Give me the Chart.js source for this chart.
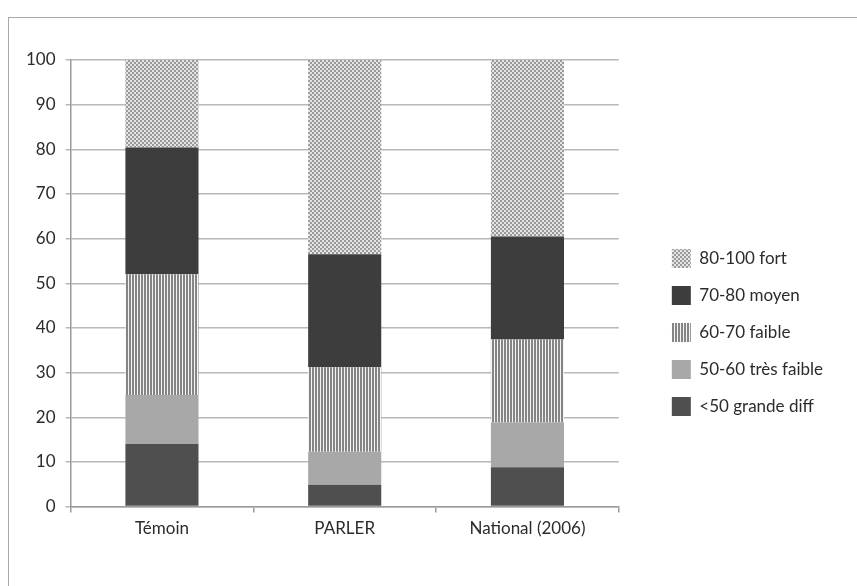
<!DOCTYPE html>
<html>
<head>
<meta charset="utf-8">
<script src="https://cdn.jsdelivr.net/npm/chart.js@4/dist/chart.umd.min.js"></script>
<style>
  html, body { margin: 0; padding: 0; background: #fff; overflow: hidden; }
  .frame { position: absolute; left: 8px; top: 17px; width: 900px; height: 600px;
           border-top: 1px solid #a9a9a9; border-left: 1px solid #a9a9a9; }
  .wrap { position: absolute; left: 0; top: 0; width: 857px; height: 586px; }
</style>
</head>
<body>
<div class="frame"></div>
<div class="wrap"><canvas id="c"></canvas></div>
<script>
// data
const categories = ['Témoin', 'PARLER', 'National (2006)'];
const grandeDiff = [14, 4.9, 8.8];      // <50 grande diff
const tresFaible = [11, 7.4, 10.1];     // 50-60 très faible
const faible = [27, 18.9, 18.5];        // 60-70 faible
const moyen = [28.4, 25.3, 23.1];       // 70-80 moyen
const fort = [19.6, 43.5, 39.5];        // 80-100 fort
const yTicks = [0, 10, 20, 30, 40, 50, 60, 70, 80, 90, 100];

// fill patterns
function checker(){
    const c = document.createElement('canvas');
    c.width = 4; c.height = 4;
    const g = c.getContext('2d');
    g.fillStyle = '#e4e4e4'; g.fillRect(0,0,4,4);
    g.fillStyle = '#9a9a9a'; g.fillRect(0,0,2,2); g.fillRect(2,2,2,2);
    return g.createPattern(c, 'repeat');
}
function stripes(){
    const c = document.createElement('canvas');
    c.width = 3; c.height = 3;
    const g = c.getContext('2d');
    g.fillStyle = '#f4f4f4'; g.fillRect(0,0,3,3);
    g.fillStyle = '#858585'; g.fillRect(0,0,2,3);
    return g.createPattern(c, 'repeat');
}

// leave some room between plot and legend
const GAP = 35;
const legendGap = {
    id: 'legendGap',
    beforeLayout(chart){
        const lg = chart.legend;
        if(!lg || lg._gapped) return;
        const fit = lg.fit;
        lg.fit = function(){ fit.call(this); this.width += GAP; };
        lg._gapped = true;
    },
    afterLayout(chart){
        if(chart.legend) chart.legend.left += GAP;
    }
};

const font = { family: 'Lato', size: 17 };
const txt = '#2b2b2b';

new Chart(document.getElementById('c'), {
    type: 'bar',
    data: {
        labels: categories,
        datasets: [
            { label: '<50 grande diff', data: grandeDiff, backgroundColor: '#4f4f4f' },
            { label: '50-60 très faible', data: tresFaible, backgroundColor: '#a8a8a8' },
            { label: '60-70 faible', data: faible, backgroundColor: stripes() },
            { label: '70-80 moyen', data: moyen, backgroundColor: '#3d3d3d' },
            { label: '80-100 fort', data: fort, backgroundColor: checker() }
        ]
    },
    plugins: [legendGap],
    options: {
        responsive: true,
        maintainAspectRatio: false,
        animation: false,
        categoryPercentage: 1,
        barPercentage: 0.4,
        layout: { padding: { top: 60, left: 16, right: 24, bottom: 41 } },
        plugins: {
            tooltip: { enabled: false },
            legend: {
                position: 'right',
                reverse: true,
                title: { display: true, text: ' ', font: { size: 10 }, padding: { top: 48, bottom: 0 } },
                labels: { boxWidth: 19, boxHeight: 19, padding: 18, color: txt, font: font }
            }
        },
        scales: {
            x: {
                stacked: true,
                grid: { drawOnChartArea: false, offset: true, tickLength: 6, color: '#9a9a9a', lineWidth: 1.5 },
                border: { color: '#9a9a9a', width: 1.5 },
                ticks: { color: txt, font: font, padding: 6 }
            },
            y: {
                stacked: true,
                min: 0, max: 100,
                afterBuildTicks: function(s){ s.ticks = yTicks.map(v => ({ value: v })); },
                grid: { color: '#b8b8b8', lineWidth: 1.5, tickLength: 5 },
                border: { color: '#9a9a9a', width: 1.5 },
                ticks: { color: txt, font: font, padding: 10 }
            }
        }
    }
});
</script>
</body>
</html>
